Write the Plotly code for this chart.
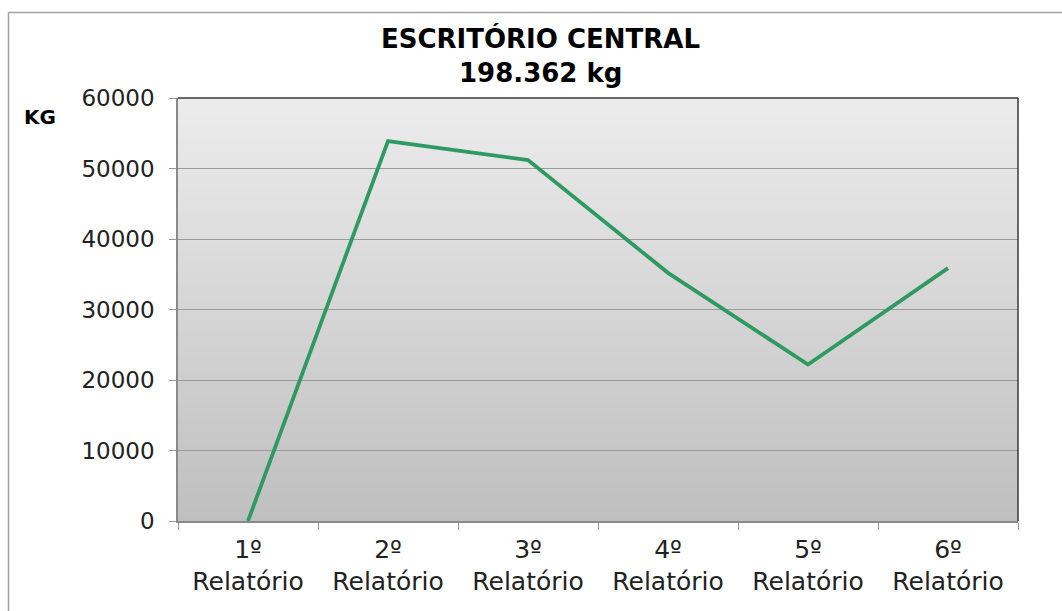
import plotly.graph_objects as go

categories = ["1º<br>Relatório", "2º<br>Relatório", "3º<br>Relatório",
              "4º<br>Relatório", "5º<br>Relatório", "6º<br>Relatório"]
values = [0, 53900, 51200, 35200, 22200, 35862]
y_ticks = [0, 10000, 20000, 30000, 40000, 50000, 60000]
title_line1 = "ESCRITÓRIO CENTRAL"
title_line2 = "198.362 kg"

FONT = "DejaVu Sans"
W, H = 1062, 611
ML, MR, MT, MB = 178, 44, 98, 90
PW, PH = W - ML - MR, H - MT - MB


def px_x(x):
    return (x - ML) / PW


def px_y(y):
    return (H - MB - y) / PH


fig = go.Figure()
fig.add_trace(go.Scatter(
    x=categories, y=values, mode="lines",
    line=dict(color="#2e9a62", width=3.8),
    showlegend=False, hoverinfo="skip",
))

# gradient background for plot area (light top -> darker bottom)
shapes = []
n = 80
top = (236, 236, 236)
bot = (191, 191, 191)
for i in range(n):
    t = i / (n - 1)
    r = round(bot[0] + (top[0] - bot[0]) * t)
    g = round(bot[1] + (top[1] - bot[1]) * t)
    b = round(bot[2] + (top[2] - bot[2]) * t)
    shapes.append(dict(
        type="rect", xref="x domain", yref="y domain",
        x0=0, x1=1, y0=i / n, y1=(i + 1) / n + 0.002,
        fillcolor=f"rgb({r},{g},{b})", line=dict(width=0), layer="below",
    ))
# dark top and right plot borders
shapes.append(dict(type="line", xref="x domain", yref="y domain",
                   x0=0, x1=1, y0=1, y1=1, line=dict(color="#3a3a3a", width=1.5)))
shapes.append(dict(type="line", xref="x domain", yref="y domain",
                   x0=1, x1=1, y0=0, y1=1, line=dict(color="#3a3a3a", width=1.5)))
# outer chart border (left + top visible)
shapes.append(dict(type="line", xref="paper", yref="paper",
                   x0=px_x(8.5), x1=px_x(8.5), y0=px_y(615), y1=px_y(12.5),
                   line=dict(color="#a0a0a0", width=1.5)))
shapes.append(dict(type="line", xref="paper", yref="paper",
                   x0=px_x(8.5), x1=px_x(1070), y0=px_y(12.5), y1=px_y(12.5),
                   line=dict(color="#a0a0a0", width=1.5)))

fig.update_layout(
    width=W, height=H,
    margin=dict(l=ML, r=MR, t=MT, b=MB, autoexpand=False),
    paper_bgcolor="white", plot_bgcolor="#d4d4d4",
    shapes=shapes,
    font=dict(family=FONT, color="#000000", size=24),
    annotations=[
        dict(text=f"<b>{title_line1}</b>", xref="paper", yref="paper",
             x=px_x(540), y=px_y(38), xanchor="center", yanchor="middle",
             showarrow=False, font=dict(family=FONT, size=26, color="#000000")),
        dict(text=f"<b>{title_line2}</b>", xref="paper", yref="paper",
             x=px_x(540), y=px_y(73), xanchor="center", yanchor="middle",
             showarrow=False, font=dict(family=FONT, size=26, color="#000000")),
        dict(text="<b>KG</b>", xref="paper", yref="paper",
             x=px_x(22), y=px_y(117), xanchor="left", yanchor="middle",
             showarrow=False, font=dict(family=FONT, size=20, color="#000000")),
    ],
)

fig.update_xaxes(
    type="category", showgrid=False, tickson="boundaries",
    ticks="outside", ticklen=7, tickcolor="#999999", tickwidth=1,
    showline=True, linecolor="#8a8a8a", linewidth=1.5,
    tickfont=dict(family=FONT, size=25, color="#222222"),
    ticklabelstandoff=5,
    range=[-0.5, 5.5],
)
fig.update_yaxes(
    range=[0, 60000], tickvals=y_ticks, ticktext=[str(v) for v in y_ticks],
    showgrid=True, gridcolor="#9a9a9a", gridwidth=1,
    ticks="outside", ticklen=7, tickcolor="#999999", tickwidth=1,
    showline=True, linecolor="#8a8a8a", linewidth=1.5,
    tickfont=dict(family=FONT, size=23, color="#222222"),
    ticklabelstandoff=10, zeroline=False,
)

fig.write_html("out.html", post_script="document.body.style.margin='0';",
               config={"displayModeBar": False})
